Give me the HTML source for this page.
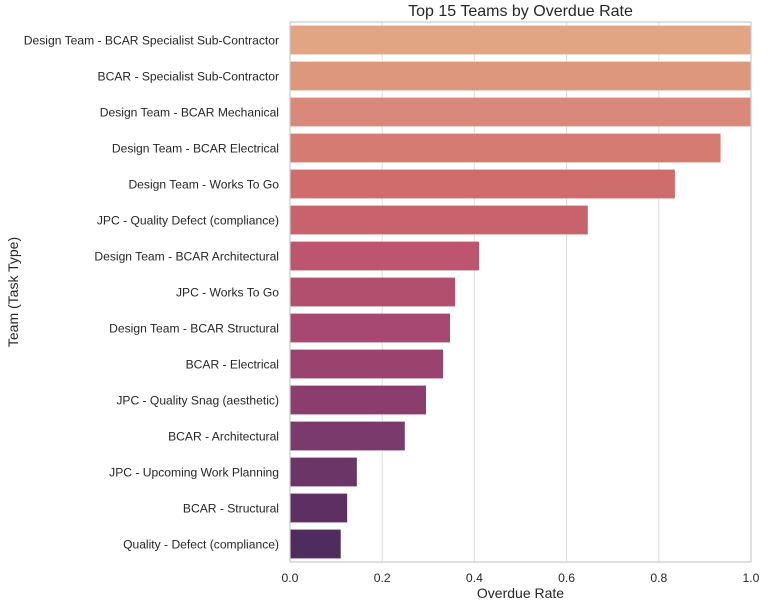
<!DOCTYPE html>
<html><head><meta charset="utf-8"><style>
body{margin:0;background:#fff;font-family:"Liberation Sans",Arial,sans-serif}
</style></head><body>
<svg id="chart" width="768" height="605" xmlns="http://www.w3.org/2000/svg" font-family="Liberation Sans, Arial, sans-serif"></svg>
<script>
const categories=["Design Team - BCAR Specialist Sub-Contractor","BCAR - Specialist Sub-Contractor","Design Team - BCAR Mechanical","Design Team - BCAR Electrical","Design Team - Works To Go","JPC - Quality Defect (compliance)","Design Team - BCAR Architectural","JPC - Works To Go","Design Team - BCAR Structural","BCAR - Electrical","JPC - Quality Snag (aesthetic)","BCAR - Architectural","JPC - Upcoming Work Planning","BCAR - Structural","Quality - Defect (compliance)"];
const values=[1.0,1.0,1.0,0.934,0.835,0.646,0.41,0.358,0.347,0.332,0.295,0.249,0.145,0.124,0.11];
const ticks=[0,0.2,0.4,0.6,0.8,1.0];
const tickLabels=["0.0","0.2","0.4","0.6","0.8","1.0"];
const colors=["#E1A584","#DC977D","#D8897A","#D57B71","#CF6D6C","#C8636D","#BD5570","#B34F6E","#A6486F","#9A436F","#8B3E6E","#7B3A6C","#6B3568","#5D2F62","#4E2C5E"];
const svg=document.getElementById('chart');
const NS="http://www.w3.org/2000/svg";
const L=290,R=751,T=22,B=562;
const xs=v=>L+v*(R-L);
const band=(B-T)/categories.length;
function mk(tag,attrs,parent){const e=document.createElementNS(NS,tag);for(const k in attrs)e.setAttribute(k,attrs[k]);(parent||svg).appendChild(e);return e;}
ticks.forEach((t,i)=>{
const g=mk('line',{x1:xs(t),x2:xs(t),y1:T,y2:B,stroke:'#dcdcdc','stroke-width':1});


const tl=mk('text',{x:xs(t),y:B+20,'text-anchor':'middle','font-size':12.2,fill:'#262626'});
tl.textContent=tickLabels[i];


});
categories.forEach((c,i)=>{
const cy=T+band*(i+0.5);
const r=mk('rect',{x:L,y:cy-band*0.4,width:xs(values[i])-L,height:band*0.8,fill:colors[i]});


const t=mk('text',{x:L-11,y:cy+4.5,'text-anchor':'end','font-size':12.1,fill:'#262626'});
t.textContent=c;


});
const f=mk('rect',{x:L,y:T,width:R-L,height:B-T,fill:'none',stroke:'#cccccc','stroke-width':1.2});


const ti=mk('text',{x:(L+R)/2,y:16,'text-anchor':'middle','font-size':16,fill:'#262626'});
ti.textContent="Top 15 Teams by Overdue Rate";


const xl=mk('text',{x:(L+R)/2,y:598,'text-anchor':'middle','font-size':14,fill:'#262626'});
xl.textContent="Overdue Rate";


const yl=mk('text',{x:0,y:0,'text-anchor':'middle','font-size':14,fill:'#262626',transform:'translate(18,292) rotate(-90)'});
yl.textContent="Team (Task Type)";


</script>
</body></html>
